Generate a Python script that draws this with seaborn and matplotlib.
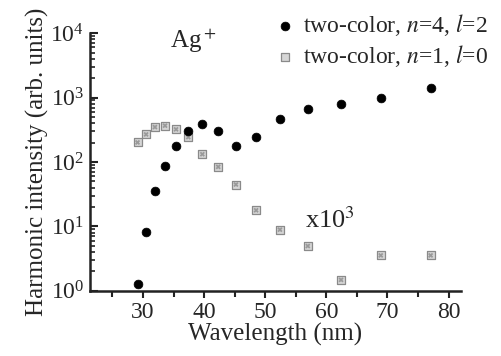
import numpy as np
import pandas as pd
import matplotlib
matplotlib.use("Agg")
import matplotlib.pyplot as plt
from matplotlib.ticker import MultipleLocator, LogLocator, NullFormatter
import seaborn as sns

# Harmonic wavelengths (nm) and intensities for the two channels
wavelength = [29.1, 30.5, 31.95, 33.6, 35.4, 37.4, 39.7, 42.3, 45.2, 48.5,
              52.4, 56.96, 62.4, 68.9, 77.06]
intensity_n4_l2 = [1.27, 8.1, 36, 88, 174, 298, 383, 298, 174, 240,
                   470, 663, 794, 973, 1430]
intensity_n1_l0 = [201, 268, 348, 366, 321, 243, 132, 84, 44.7, 17.8,
                   8.9, 4.96, 1.48, 3.55, 3.55]
labels = ["two-color, $n$=4, $l$=2", "two-color, $n$=1, $l$=0"]

df = pd.DataFrame({
    "wavelength": wavelength * 2,
    "intensity": intensity_n4_l2 + intensity_n1_l0,
    "series": [labels[0]] * len(wavelength) + [labels[1]] * len(wavelength),
})

sns.set_theme(style="white")
plt.rcParams["font.family"] = ["Liberation Serif", "DejaVu Serif"]
plt.rcParams["mathtext.fontset"] = "stix"

fig = plt.figure(figsize=(5.02, 3.56), dpi=100)
ax = fig.add_axes([0.179, 0.183, 0.739, 0.724])

d1 = df[df.series == labels[0]]
d2 = df[df.series == labels[1]]
sns.scatterplot(data=d1, x="wavelength", y="intensity", ax=ax, marker="o",
                s=40, color="black", edgecolor="black", linewidth=0.5,
                label=labels[0], zorder=3)
sns.scatterplot(data=d2, x="wavelength", y="intensity", ax=ax, marker="s",
                s=34, color="#d6d6d6", edgecolor="#8a8a8a", linewidth=0.9,
                label=labels[1], zorder=2)
# inner pattern of the square markers
sns.scatterplot(data=d2, x="wavelength", y="intensity", ax=ax, marker="X",
                s=14, color="#9a9a9a", edgecolor="none", linewidth=0,
                legend=False, zorder=2.5)

ax.set_yscale("log")
ax.set_xlim(21.3, 82)
ax.set_ylim(1, 1e4)

ax.xaxis.set_major_locator(MultipleLocator(10))
ax.xaxis.set_minor_locator(MultipleLocator(5))
ax.yaxis.set_major_locator(LogLocator(base=10, numticks=10))
ax.yaxis.set_minor_locator(LogLocator(base=10, subs=np.arange(2, 10), numticks=20))
ax.yaxis.set_minor_formatter(NullFormatter())

for side in ["top", "right"]:
    ax.spines[side].set_visible(False)
for side in ["left", "bottom"]:
    ax.spines[side].set_linewidth(1.8)
    ax.spines[side].set_color("#222222")

ax.tick_params(axis="x", which="major", direction="out", length=5, width=1.5,
               labelsize=17, pad=3, bottom=True, color="#222222")
ax.tick_params(axis="x", which="minor", direction="out", length=4, width=1.5,
               bottom=True, color="#222222")
ax.tick_params(axis="y", which="major", direction="in", length=6, width=1.5,
               labelsize=17, pad=4, left=True, color="#222222")
ax.tick_params(axis="y", which="minor", direction="in", length=3.5, width=1.2,
               left=True, color="#222222")

ax.set_xlabel("Wavelength (nm)", fontsize=18, labelpad=0)
ax.set_ylabel("Harmonic intensity (arb. units)", fontsize=18, labelpad=1)

ax.text(0.216, 0.942, "Ag$^+$", transform=ax.transAxes, fontsize=18,
        ha="left", va="baseline")
ax.text(0.58, 0.244, "x10$^3$", transform=ax.transAxes, fontsize=19,
        ha="left", va="baseline")

leg = ax.legend(loc="upper left", bbox_to_anchor=(0.544, 0.966), bbox_transform=fig.transFigure,
                frameon=False, fontsize=17, handletextpad=0.25, labelspacing=0.2,
                borderaxespad=0, borderpad=0, handlelength=1.0, markerscale=1.0)

fig.savefig("out.png", dpi=100)
